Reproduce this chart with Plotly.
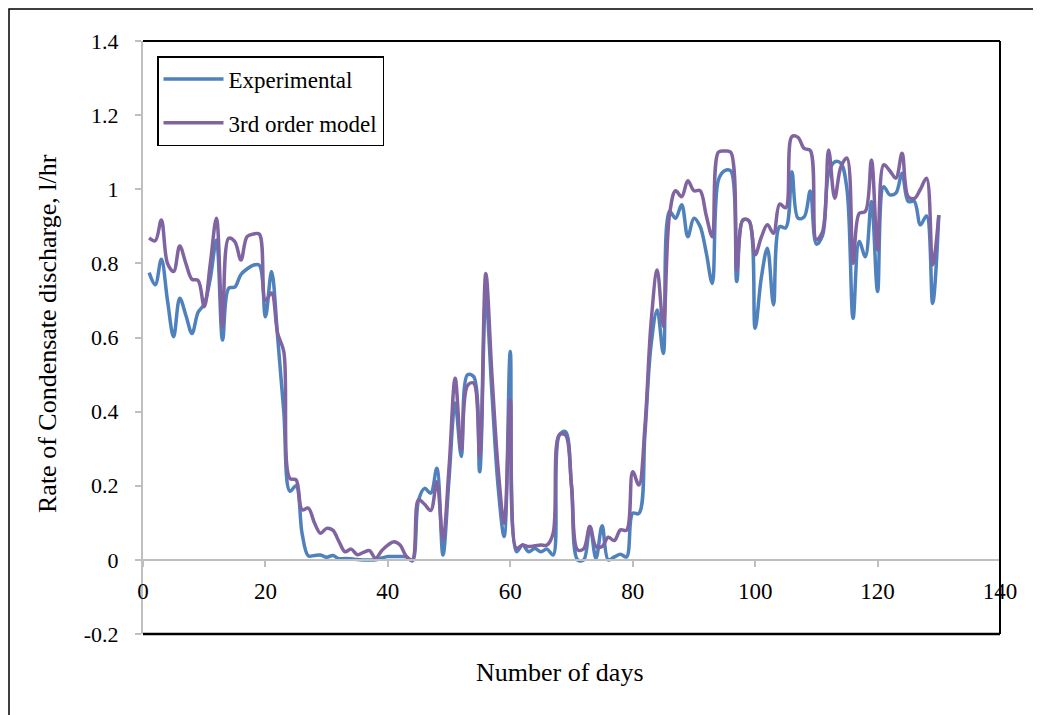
import plotly.graph_objects as go

days = list(range(1, 131))

experimental = [
    0.775, 0.742, 0.811, 0.70, 0.602, 0.706, 0.66, 0.611, 0.668, 0.69,
    0.76, 0.863, 0.593, 0.733, 0.736, 0.77, 0.785, 0.795, 0.795, 0.656,
    0.778, 0.60, 0.40, 0.185, 0.20, 0.07, 0.011, 0.012, 0.013, 0.007,
    0.012, 0.003, 0.004, 0.003, 0.001, 0.0, 0.0, 0.0, 0.005, 0.009,
    0.009, 0.009, 0.008, -0.003, 0.16, 0.193, 0.18, 0.247, 0.013, 0.22,
    0.423, 0.279, 0.499, 0.495, 0.238, 0.71, 0.45, 0.20, 0.063, 0.562,
    0.022, 0.04, 0.022, 0.031, 0.022, 0.029, 0.013, 0.337, 0.346, 0.20,
    0.0, 0.0, 0.09, 0.004, 0.092, 0.0, 0.008, 0.015, 0.008, 0.126,
    0.125, 0.34, 0.58, 0.674, 0.557, 0.94, 0.922, 0.958, 0.872, 0.922,
    0.90, 0.83, 0.746, 1.025, 1.05, 1.05, 0.751, 0.917, 0.914, 0.625,
    0.76, 0.841, 0.688, 0.899, 0.896, 1.047, 0.922, 0.925, 0.995, 0.852,
    0.875, 1.043, 1.074, 1.07, 1.0, 0.652, 0.859, 0.818, 0.967, 0.724,
    1.007, 0.985, 0.99, 1.043, 0.967, 0.967, 0.904, 0.928, 0.692, 0.93,
]

model = [
    0.869, 0.861, 0.917, 0.80, 0.778, 0.847, 0.80, 0.757, 0.754, 0.683,
    0.80, 0.922, 0.629, 0.868, 0.859, 0.809, 0.872, 0.879, 0.879, 0.70,
    0.72, 0.611, 0.562, 0.22, 0.216, 0.135, 0.14, 0.10, 0.072, 0.085,
    0.08, 0.05, 0.022, 0.029, 0.014, 0.02, 0.025, 0.004, 0.025, 0.04,
    0.049, 0.04, 0.01, 0.0, 0.162, 0.15, 0.133, 0.211, 0.054, 0.25,
    0.49, 0.297, 0.47, 0.477, 0.279, 0.773, 0.50, 0.25, 0.099, 0.432,
    0.031, 0.04, 0.036, 0.038, 0.04, 0.04, 0.072, 0.337, 0.337, 0.20,
    0.027, 0.03, 0.09, 0.036, 0.036, 0.061, 0.052, 0.081, 0.08, 0.238,
    0.202, 0.36, 0.64, 0.782, 0.63, 0.93, 0.996, 0.98, 1.023, 0.996,
    0.996, 0.93, 0.872, 1.10, 1.103, 1.10, 0.782, 0.917, 0.915, 0.823,
    0.87, 0.904, 0.881, 0.96, 0.95, 1.142, 1.14, 1.11, 1.105, 0.864,
    0.885, 1.106, 0.976, 1.06, 1.084, 0.80, 0.935, 0.94, 1.079, 0.836,
    1.066, 1.05, 1.03, 1.097, 0.98, 0.975, 1.0, 1.03, 0.796, 0.93,
]

series_names = ["Experimental", "3rd order model"]
series_colors = ["#4F81BD", "#8064A2"]

x_tickvals = [0, 20, 40, 60, 80, 100, 120, 140]
x_ticktext = ["0", "20", "40", "60", "80", "100", "120", "140"]
y_tickvals = [-0.2, 0, 0.2, 0.4, 0.6, 0.8, 1.0, 1.2, 1.4]
y_ticktext = ["-0.2", "0", "0.2", "0.4", "0.6", "0.8", "1", "1.2", "1.4"]

x_title = "Number of days"
y_title = "Rate of Condensate discharge, l/hr"

FONT = "Liberation Serif, Times New Roman, serif"
GRAY = "#BFBFBF"

# the page body has an 8px margin, so the figure is sized/offset to compensate
fig = go.Figure()
for i, (name, vals, col) in enumerate(zip(series_names, [experimental, model], series_colors)):
    fig.add_trace(go.Scatter(
        x=days, y=vals, name=name, mode="lines",
        line=dict(color=col, width=3.5, shape="spline", smoothing=1.0),
        legendgroup="g%d" % i,
    ))

fig.update_layout(
    width=1033, height=707,
    margin=dict(l=135, r=41, t=33, b=81),
    paper_bgcolor="white", plot_bgcolor="white",
    font=dict(family=FONT, color="black", size=22),
    showlegend=True,
    legend=dict(
        x=(157 - 143) / 857, y=(634 - 56) / 593, xanchor="left", yanchor="top",
        bordercolor="black", borderwidth=1.5, bgcolor="white",
        font=dict(family=FONT, size=23, color="black"),
        tracegroupgap=11, itemwidth=60,
    ),
    xaxis=dict(
        range=[0, 140], tickvals=x_tickvals, ticktext=x_ticktext,
        showgrid=False, zeroline=False,
        showline=True, linecolor=GRAY, linewidth=2,
        ticks="outside", ticklen=6, tickwidth=2, tickcolor=GRAY,
        anchor="free", position=0.2 / 1.6,
        tickfont=dict(family=FONT, size=23, color="black"),
        ticklabelstandoff=5,
    ),
    yaxis=dict(
        range=[-0.2, 1.4], tickvals=y_tickvals, ticktext=y_ticktext,
        showgrid=False, zeroline=False,
        showline=True, linecolor=GRAY, linewidth=2,
        ticks="outside", ticklen=6, tickwidth=2, tickcolor=GRAY,
        tickfont=dict(family=FONT, size=22, color="black"),
        ticklabelstandoff=12,
    ),
    annotations=[
        dict(text=x_title, xref="paper", yref="paper",
             x=(560 - 143) / 857, y=(634 - 672) / 593,
             xanchor="center", yanchor="middle", showarrow=False,
             font=dict(family=FONT, size=26, color="black")),
        dict(text=y_title, xref="paper", yref="paper",
             x=(47 - 143) / 857, y=(634 - 334) / 593, textangle=-90,
             xanchor="center", yanchor="middle", showarrow=False,
             font=dict(family=FONT, size=26, color="black")),
    ],
    shapes=[
        # plot-area frame: top, right, bottom
        dict(type="line", xref="paper", yref="paper", x0=0, x1=1, y0=1, y1=1,
             line=dict(color="black", width=2)),
        dict(type="line", xref="paper", yref="paper", x0=1, x1=1, y0=0, y1=1,
             line=dict(color="black", width=2)),
        dict(type="line", xref="paper", yref="paper", x0=0, x1=1, y0=0, y1=0,
             line=dict(color="black", width=2.5)),
        # outer chart border (left and top visible)
        dict(type="rect", xref="paper", yref="paper",
             x0=(9 - 143) / 857, x1=1.2, y0=-0.3, y1=(634 - 9) / 593,
             line=dict(color="black", width=1.5)),
    ],
)

fig.write_html("out.html")
